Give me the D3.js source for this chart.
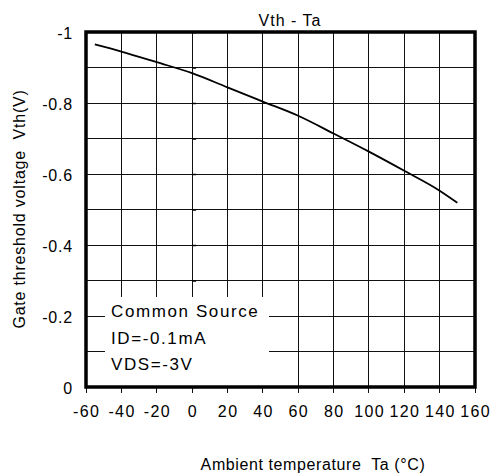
<!DOCTYPE html>
<html>
<head>
<meta charset="utf-8">
<script src="https://cdn.jsdelivr.net/npm/d3@7"></script>
<style>
  body { margin: 0; background: #fff; }
  text { font-family: "Liberation Sans", Arial, sans-serif; fill: #000; }
</style>
</head>
<body>
<div id="canvas"></div>
<script>
// Vth - Ta curve
var temps = [-55, -40, -20, 0, 20, 40, 60, 80, 100, 120, 140, 150];
var vth   = [-0.965, -0.945, -0.915, -0.884, -0.844, -0.804, -0.764, -0.714, -0.663, -0.609, -0.553, -0.519];

var xTicks = [-60, -40, -20, 0, 20, 40, 60, 80, 100, 120, 140, 160];
var yTicks = [0, -0.2, -0.4, -0.6, -0.8, -1];
var yGrid  = d3.range(0, 11).map(function(i){ return -i / 10; });

var legendLines = ['Common Source', 'ID=-0.1mA', 'VDS=-3V'];

var W = 490, H = 475;
var m = {t:32, r:15, b:88, l:86};

var svg = d3.select('#canvas').append('svg')
    .attr('width', W).attr('height', H);

var x = d3.scaleLinear().domain([-60, 160]).range([m.l, W - m.r]);
var y = d3.scaleLinear().domain([0, -1]).range([H - m.b, m.t]);

// grid
var grid = svg.append('g').attr('class', 'grid')
    .attr('stroke', '#111').attr('stroke-width', 1).attr('shape-rendering', 'crispEdges');
grid.selectAll('.vg').data(xTicks).enter().append('line')
    .attr('x1', function(d){ return x(d); }).attr('x2', function(d){ return x(d); })
    .attr('y1', y(-1)).attr('y2', y(0) + 6);
grid.selectAll('.hg').data(yGrid).enter().append('line')
    .attr('x1', x(-60)).attr('x2', x(160))
    .attr('y1', function(d){ return y(d); }).attr('y2', function(d){ return y(d); });

// little y ticks sitting on the 0 degree line
svg.append('g').attr('transform', 'translate(' + (x(0) + 4) + ',0)')
    .call(d3.axisLeft(y).tickValues(yGrid).tickSize(4).tickFormat(''))
    .call(function(g){ g.select('.domain').remove(); g.selectAll('line').attr('stroke-width', 1.5); });

// legend box covers grid
var lg = svg.append('g');
lg.append('rect')
    .attr('x', 105).attr('y', 297)
    .attr('width', 164).attr('height', y(0) - 297)
    .attr('fill', '#fff');
lg.selectAll('text').data(legendLines).enter().append('text')
    .attr('x', 111)
    .attr('y', function(d, i){ return 317 + i * 26.5; })
    .attr('font-size', 17).attr('letter-spacing', 1.6)
    .text(function(d){ return d; });

// curve
var line = d3.line()
    .x(function(d){ return x(d[0]); })
    .y(function(d){ return y(d[1]); })
    .curve(d3.curveMonotoneX);
svg.append('path')
    .datum(d3.zip(temps, vth))
    .attr('d', line)
    .attr('fill', 'none').attr('stroke', '#000').attr('stroke-width', 1.8);

// frame
svg.append('rect')
    .attr('x', x(-60)).attr('y', y(-1))
    .attr('width', x(160) - x(-60)).attr('height', y(0) - y(-1))
    .attr('fill', 'none').attr('stroke', '#000').attr('stroke-width', 3.5);

// tick labels
svg.append('g').selectAll('text').data(xTicks).enter().append('text')
    .attr('x', function(d){ return x(d) + 0.7; })
    .attr('y', 417)
    .attr('text-anchor', 'middle')
    .attr('font-size', 16).attr('letter-spacing', 1.4)
    .text(function(d){ return d; });

svg.append('g').selectAll('text').data(yTicks).enter().append('text')
    .attr('x', 73)
    .attr('y', function(d){ return y(d) + 6.5; })
    .attr('text-anchor', 'end')
    .attr('font-size', 16).attr('letter-spacing', 0.8)
    .text(function(d){ return d; });

// titles
svg.append('text')
    .attr('x', 290).attr('y', 26)
    .attr('text-anchor', 'middle')
    .attr('font-size', 16).attr('letter-spacing', 1)
    .text('Vth - Ta');

svg.append('text')
    .attr('x', 313).attr('y', 470)
    .attr('text-anchor', 'middle')
    .attr('font-size', 16).attr('letter-spacing', 0.6)
    .style('white-space', 'pre')
    .text('Ambient temperature  Ta (°C)');

svg.append('text')
    .attr('transform', 'translate(25,209) rotate(-90)')
    .attr('text-anchor', 'middle')
    .attr('font-size', 16).attr('letter-spacing', 0.8)
    .style('white-space', 'pre')
    .text('Gate threshold voltage  Vth(V)');
</script>
</body>
</html>
